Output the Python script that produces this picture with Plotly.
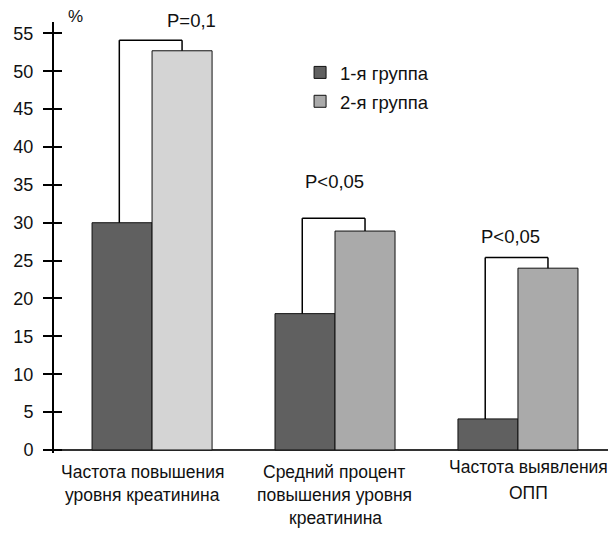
import plotly.graph_objects as go

categories = ["Частота повышения<br>уровня креатинина",
              "Средний процент<br>повышения уровня<br>креатинина",
              "Частота выявления<br>ОПП"]
group1 = [30, 18, 4.1]
group2 = [52.7, 28.9, 24]
p_labels = ["P=0,1", "P<0,05", "P<0,05"]
bracket_levels = [54.1, 30.6, 25.4]
y_ticks = [0, 5, 10, 15, 20, 25, 30, 35, 40, 45, 50, 55]

x = [0, 1, 2]
font = "Liberation Sans, Arial, sans-serif"
dark = "#606060"
light2 = ["#d4d4d4", "#aaaaaa", "#aaaaaa"]
outline = dict(color="#111", width=1)

fig = go.Figure()
fig.add_trace(go.Bar(x=x, y=group1, name="1-я группа", offsetgroup="g1",
                     marker=dict(color=dark, line=outline), showlegend=False))
fig.add_trace(go.Bar(x=x, y=group2, name="2-я группа", offsetgroup="g2",
                     marker=dict(color=light2, line=outline), showlegend=False))
# legend entries
fig.add_trace(go.Bar(x=[None], y=[None], name="1-я группа", offsetgroup="g1", legend="legend",
                     marker=dict(color=dark, line=outline)))
fig.add_trace(go.Bar(x=[None], y=[None], name="2-я группа", offsetgroup="g2", legend="legend2",
                     marker=dict(color="#aaaaaa", line=outline)))
# helper trace on overlaying axis to draw inward tick marks
fig.add_trace(go.Scatter(x=[None], y=[None], yaxis="y2", showlegend=False, hoverinfo="skip"))

bargap = 0.344
half = (1 - bargap) / 4  # offset from category center to bar center
shapes = []
annotations = []
for i in range(3):
    xl = x[i] - half - 0.015
    xr = x[i] + half
    lvl = bracket_levels[i]
    ln = dict(color="#000", width=1.5)
    shapes.append(dict(type="line", x0=xl, x1=xl, y0=group1[i], y1=lvl, line=ln, xref="x", yref="y"))
    shapes.append(dict(type="line", x0=xr, x1=xr, y0=group2[i], y1=lvl, line=ln, xref="x", yref="y"))
    shapes.append(dict(type="line", x0=xl, x1=xr, y0=lvl, y1=lvl, line=ln, xref="x", yref="y"))

# p-value labels (x in category units, y in value units, extra pixel shift)
ann_pos = [(0.218, 56.3, 3), (0.997, 35.4, 0), (1.958, 28.2, 0)]
for i in range(3):
    annotations.append(dict(x=ann_pos[i][0], y=ann_pos[i][1], yshift=ann_pos[i][2], text=p_labels[i],
                            showarrow=False, xref="x", yref="y",
                            font=dict(size=18.5, color="#111", family=font)))
annotations.append(dict(x=0.022, y=1.012, xref="paper", yref="paper", text="%", showarrow=False,
                        xanchor="left", yanchor="middle", font=dict(size=17, color="#111", family=font)))

# category labels, placed line by line below the axis
line_x = [[-0.050, -0.055], [0.995, 0.995, 1.005], [2.055, 2.055]]
line_y = [[-0.0441, -0.0974], [-0.0441, -0.0974, -0.1508], [-0.0325, -0.0928]]
for i, cat in enumerate(categories):
    for j, line in enumerate(cat.split("<br>")):
        annotations.append(dict(x=line_x[i][j], y=line_y[i][j], xref="x", yref="paper", text=line,
                                showarrow=False, xanchor="center", yanchor="middle",
                                font=dict(size=17.5, color="#111", family=font)))

leg_common = dict(xanchor="left", yanchor="top", bgcolor="rgba(0,0,0,0)",
                  font=dict(size=18.5, family=font, color="#111"))
fig.update_layout(
    width=616, height=534,
    margin=dict(l=46, r=12, t=14, b=89),
    paper_bgcolor="white", plot_bgcolor="white",
    barmode="group", bargap=bargap, bargroupgap=0,
    font=dict(family=font, size=17, color="#111"),
    shapes=shapes, annotations=annotations,
    legend=dict(x=0.441, y=0.926, **leg_common),
    legend2=dict(x=0.441, y=0.859, **leg_common),
    xaxis=dict(range=[-0.536, 2.514], tickvals=x, showticklabels=False,
               showline=False, showgrid=False, zeroline=False, ticks="", automargin=False),
    yaxis=dict(range=[-0.4, 56.5], tickvals=y_ticks, showline=True, linecolor="#000", linewidth=2,
               ticks="outside", ticklen=9, tickcolor="#000", tickwidth=1.5, showgrid=False,
               zeroline=True, zerolinecolor="#333", zerolinewidth=1.5, automargin=False,
               ticklabelstandoff=6, tickfont=dict(size=18, family=font)),
    yaxis2=dict(range=[-0.4, 56.5], tickvals=y_ticks, overlaying="y", side="left",
                ticks="inside", ticklen=8, tickcolor="#000", tickwidth=1.5,
                showticklabels=False, showgrid=False, zeroline=False, showline=False,
                automargin=False),
)
fig.write_html("out.html")
